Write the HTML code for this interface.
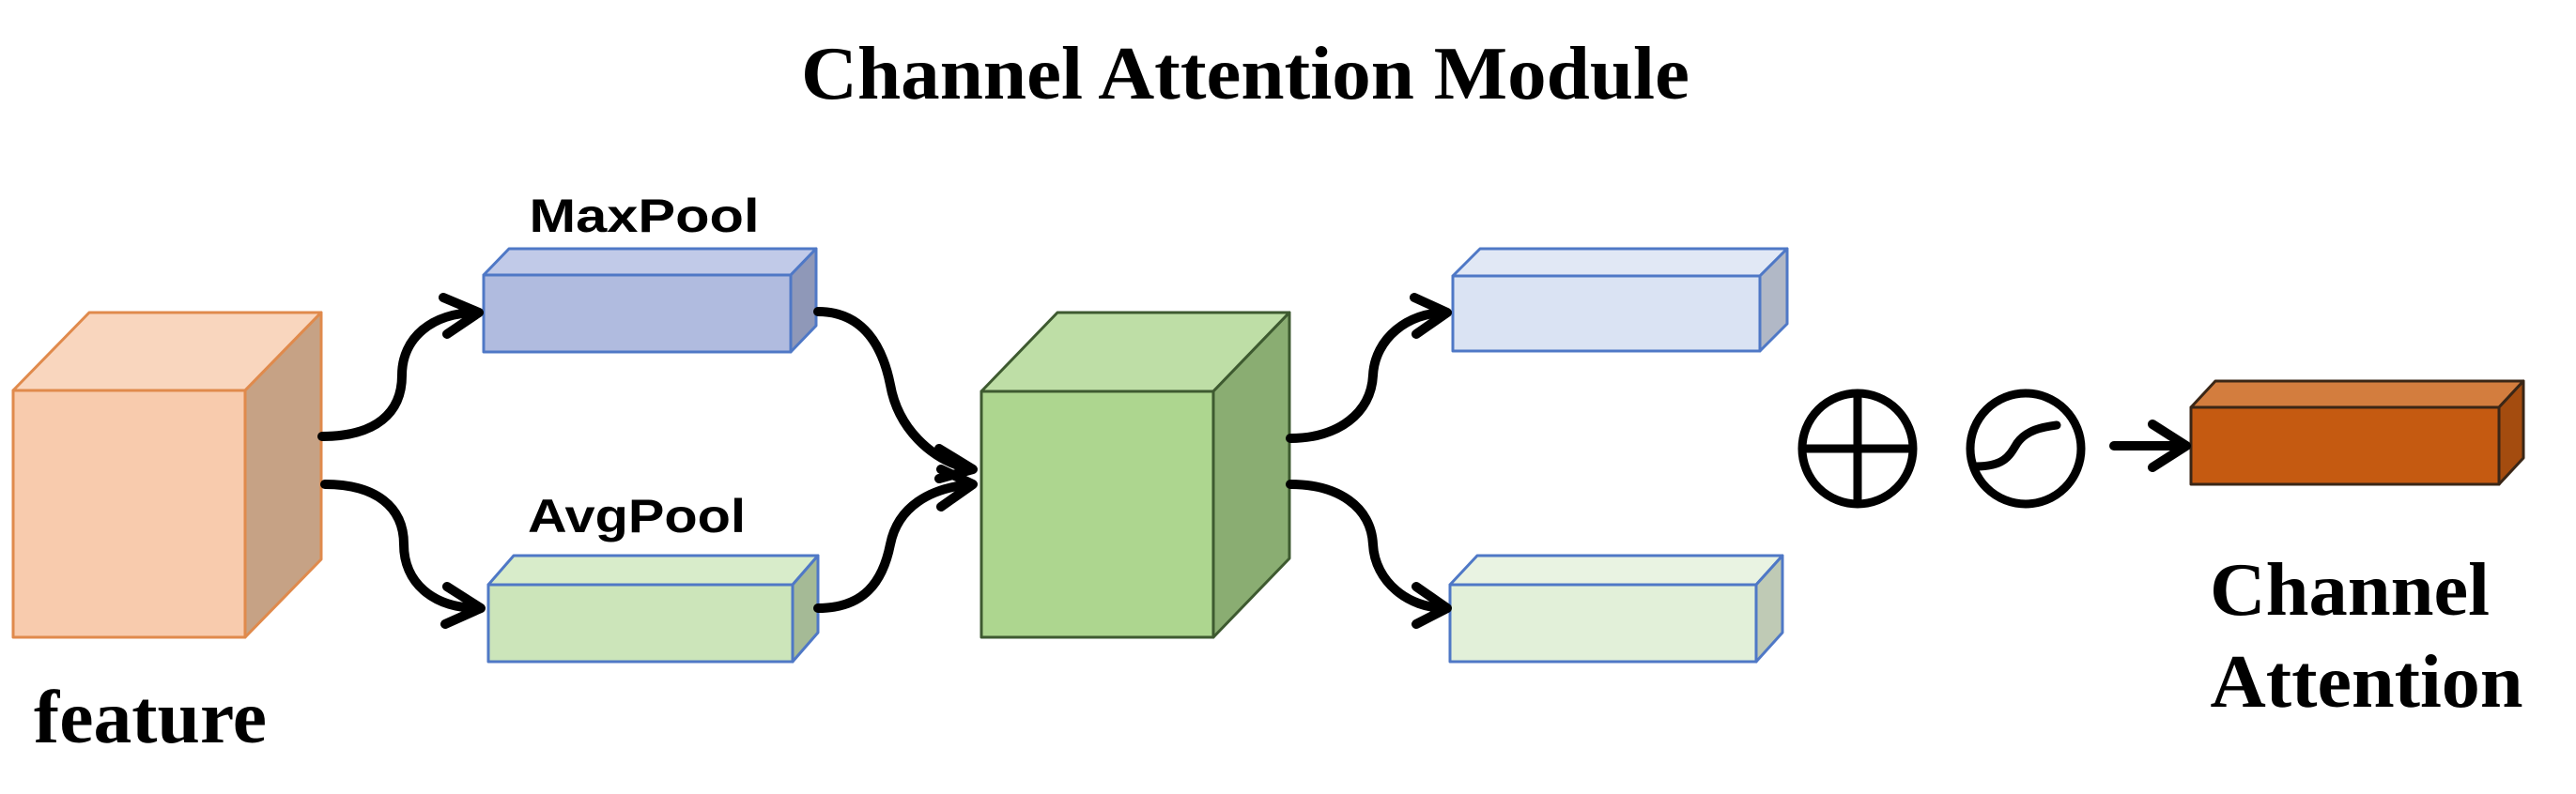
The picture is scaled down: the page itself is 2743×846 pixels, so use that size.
<!DOCTYPE html>
<html><head><meta charset="utf-8"><style>
html,body{margin:0;padding:0;background:#fff;}
svg{display:block;}
</style></head><body>
<svg width="2743" height="846" viewBox="0 0 2743 846" xmlns="http://www.w3.org/2000/svg">
<text x="1326" y="105" font-family="Liberation Serif, serif" font-weight="bold" font-size="80" text-anchor="middle" textLength="946" lengthAdjust="spacingAndGlyphs">Channel Attention Module</text>

<!-- feature cube -->
<g stroke="#E08A4C" stroke-width="3" stroke-linejoin="round">
<polygon points="14,416 95,333 342,333 261,416" fill="#F9D6BE"/>
<polygon points="261,416 342,333 342,596 261,679" fill="#C6A285"/>
<rect x="14" y="416" width="247" height="263" fill="#F8CBAD"/>
</g>
<text x="160" y="791" font-family="Liberation Serif, serif" font-weight="bold" font-size="80" text-anchor="middle" textLength="248" lengthAdjust="spacingAndGlyphs">feature</text>

<!-- MaxPool -->
<text x="686" y="247" font-family="Liberation Sans, sans-serif" font-weight="bold" font-size="50" text-anchor="middle" textLength="245" lengthAdjust="spacingAndGlyphs">MaxPool</text>
<g stroke="#4F78C6" stroke-width="3" stroke-linejoin="round">
<polygon points="515,293 542,265 869,265 842,293" fill="#C1CAE8"/>
<polygon points="842,293 869,265 869,347 842,375" fill="#8F98B8"/>
<rect x="515" y="293" width="327" height="82" fill="#B0BBDF"/>
</g>
<!-- AvgPool -->
<text x="678" y="567" font-family="Liberation Sans, sans-serif" font-weight="bold" font-size="50" text-anchor="middle" textLength="232" lengthAdjust="spacingAndGlyphs">AvgPool</text>
<g stroke="#4F78C6" stroke-width="3" stroke-linejoin="round">
<polygon points="520,623 547,592 871,592 844,623" fill="#D8ECCA"/>
<polygon points="844,623 871,592 871,674 844,705" fill="#A5BA96"/>
<rect x="520" y="623" width="324" height="82" fill="#CCE5BA"/>
</g>

<!-- green cube -->
<g stroke="#3E5A30" stroke-width="3" stroke-linejoin="round">
<polygon points="1045,417 1126,333 1373,333 1292,417" fill="#BEDEA6"/>
<polygon points="1292,417 1373,333 1373,595 1292,679" fill="#8AAD72"/>
<rect x="1045" y="417" width="247" height="262" fill="#ADD68F"/>
</g>

<!-- right boxes -->
<g stroke="#4F78C6" stroke-width="3" stroke-linejoin="round">
<polygon points="1547,294 1576,265 1903,265 1874,294" fill="#E1E8F5"/>
<polygon points="1874,294 1903,265 1903,345 1874,374" fill="#B1B8C6"/>
<rect x="1547" y="294" width="327" height="80" fill="#DAE3F3"/>
<polygon points="1544,623 1573,592 1898,592 1870,623" fill="#E9F3E2"/>
<polygon points="1870,623 1898,592 1898,674 1870,705" fill="#BFCAB5"/>
<rect x="1544" y="623" width="326" height="82" fill="#E2F0D9"/>
</g>

<!-- orange box -->
<g stroke="#3A2616" stroke-width="3" stroke-linejoin="round">
<polygon points="2333,434 2359,406 2687,406 2661,434" fill="#D37D3E"/>
<polygon points="2661,434 2687,406 2687,488 2661,516" fill="#A44C0F"/>
<rect x="2333" y="434" width="328" height="82" fill="#C55A11"/>
</g>
<text x="2502" y="655" font-family="Liberation Serif, serif" font-weight="bold" font-size="80" text-anchor="middle" textLength="298" lengthAdjust="spacingAndGlyphs">Channel</text>
<text x="2520" y="753" font-family="Liberation Serif, serif" font-weight="bold" font-size="80" text-anchor="middle" textLength="333" lengthAdjust="spacingAndGlyphs">Attention</text>

<!-- arrows -->
<g fill="none" stroke="#000" stroke-width="10" stroke-linecap="round" stroke-linejoin="round">
<path d="M343,465 C400,465 428,440 428,400 C428,360 460,333 508,333"/>
<path d="M472,317 L510,333 L476,356"/>
<path d="M346,516 C400,516 430,540 430,580 C430,620 460,648 510,648"/>
<path d="M476,625 L512,648 L474,665"/>
<path d="M871,332 C920,332 940,370 948,410 C956,455 990,490 1034,500"/>
<path d="M1000,478 L1036,500 L1000,510"/>
<path d="M871,648 C920,648 940,620 948,580 C956,540 990,520 1034,516"/>
<path d="M1002,500 L1036,516 L1002,540"/>
<path d="M1374,467 C1425,467 1460,440 1462,400 C1464,360 1500,333 1539,333"/>
<path d="M1506,317 L1541,333 L1508,356"/>
<path d="M1374,516 C1425,516 1460,540 1462,580 C1464,620 1500,648 1539,648"/>
<path d="M1508,625 L1541,648 L1508,665"/>
<path d="M2251,475 L2326,475"/>
<path d="M2292,452 L2328,475 L2292,498"/>
<circle cx="1978" cy="478" r="59" stroke-width="9"/>
<path d="M1978,419 V537 M1919,478 H2037" stroke-width="9" stroke-linecap="butt"/>
<circle cx="2157" cy="478" r="59" stroke-width="9"/>
<path d="M2104,497 C2135,497 2140,485 2148,472 C2158,458 2175,455 2190,453" stroke-width="9"/>
</g>
</svg>
</body></html>
